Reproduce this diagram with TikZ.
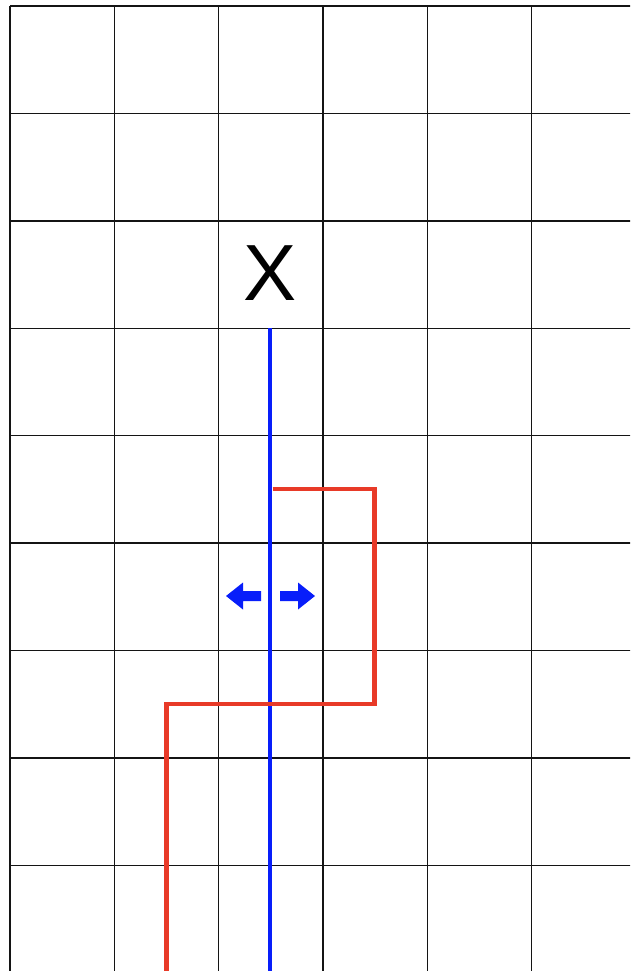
\documentclass[tikz,border=0pt]{standalone}
\usepackage{fontspec}
\setmainfont{Liberation Sans}
\definecolor{gridc}{RGB}{20,20,20}
\definecolor{redl}{RGB}{232,58,40}
\definecolor{bluel}{RGB}{8,30,250}
\begin{document}
\begin{tikzpicture}[x=0.03cm,y=-0.03cm,
  gridline/.style={draw=gridc,line width=1.2pt},
  blueline/.style={draw=bluel,line width=3.8pt},
  redline/.style={draw=redl,line width=3.8pt,line join=miter},
  arrowshape/.style={fill=bluel,draw=none}]
\useasboundingbox (0,0) rectangle (630,971);
\clip (0,0) rectangle (630,971);
\fill[white] (0,0) rectangle (630,971);
% grid
\foreach \x in {10,114.3,218.6,322.9,427.2,531.5,635.8}
  \draw[gridline] (\x,6) -- (\x,1000);
\foreach \y in {6,113.4,220.8,328.2,435.6,543,650.4,757.8,865.2}
  \draw[gridline] (10,\y) -- (700,\y);
% label
\node[font=\fontsize{68}{68}\selectfont,inner sep=0pt] (X) at (270,273) {X};
% blue line
\coordinate (b1) at (270,328.2);
\coordinate (b2) at (270,1000);
\draw[blueline] (b1) -- (b2);
% red path
\coordinate (r1) at (272.5,489);
\coordinate (r2) at (374.5,489);
\coordinate (r3) at (374.5,704);
\coordinate (r4) at (166.5,704);
\coordinate (r5) at (166.5,1000);
\draw[redline] (r1) -- (r2) -- (r3) -- (r4) -- (r5);
% arrows
\fill[arrowshape] (226,596) -- (243,582.5) -- (243,591) -- (261,591) -- (261,601) -- (243,601) -- (243,609.5) -- cycle;
\fill[arrowshape] (315,596) -- (298,582.5) -- (298,591) -- (280,591) -- (280,601) -- (298,601) -- (298,609.5) -- cycle;
\end{tikzpicture}
\end{document}
